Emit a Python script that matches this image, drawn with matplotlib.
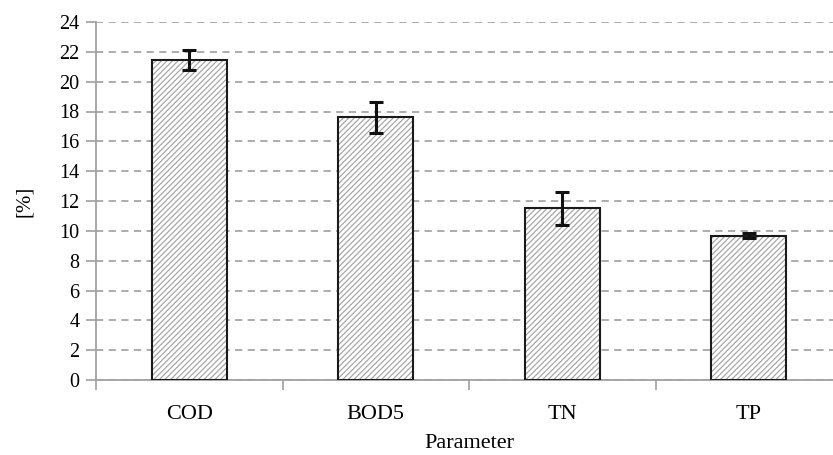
import matplotlib
matplotlib.use("Agg")
import matplotlib.pyplot as plt
import numpy as np

categories = ["COD", "BOD5", "TN", "TP"]
values = [21.45, 17.62, 11.5, 9.68]
errors = [0.65, 1.03, 1.11, 0.18]
yticks = list(range(0, 25, 2))

plt.rcParams['font.family'] = ['Liberation Serif', 'DejaVu Serif']
plt.rcParams['hatch.linewidth'] = 0.9

fig = plt.figure(figsize=(8.33, 4.55), dpi=100)
ax = fig.add_axes([96/833, 75/455, 746/833, 358/455])

x = np.arange(len(categories))
# hatched fill (grey hatch)
ax.bar(x, values, width=0.40, color='white', edgecolor='#a8a8a8', linewidth=0,
       hatch='//////', zorder=3)
# black outline
ax.bar(x, values, width=0.40, fill=False, edgecolor='#1a1a1a', linewidth=1.5,
       zorder=3.5)
ax.errorbar(x, values, yerr=errors, fmt='none', ecolor='#111111', elinewidth=2.2,
            capsize=5, capthick=2.2, zorder=4)

ax.set_xlim(-0.5, len(categories) - 0.5)
ax.set_ylim(0, 24)
ax.set_yticks(yticks)
ax.set_xticks(x)
ax.set_xticklabels(categories)
ax.set_xticks(np.arange(-0.5, len(categories), 1), minor=True)
ax.tick_params(axis='x', which='major', length=0, labelsize=16, pad=18)
ax.tick_params(axis='x', which='minor', length=7, color='#a0a0a0', width=1.2)
ax.tick_params(axis='y', length=7, color='#a0a0a0', width=1.2, labelsize=14.5, pad=5)

ax.yaxis.grid(True, linestyle=(0, (4, 3)), color='#a6a6a6', linewidth=1.3, zorder=0)
ax.set_axisbelow(True)
for s in ['top', 'right']:
    ax.spines[s].set_visible(False)
for s in ['left', 'bottom']:
    ax.spines[s].set_color('#a0a0a0')
    ax.spines[s].set_linewidth(1.3)

ax.set_ylabel('[%]', fontsize=15, labelpad=18)
ax.set_xlabel('Parameter', fontsize=16, labelpad=7)

fig.savefig('out.png', dpi=100)
